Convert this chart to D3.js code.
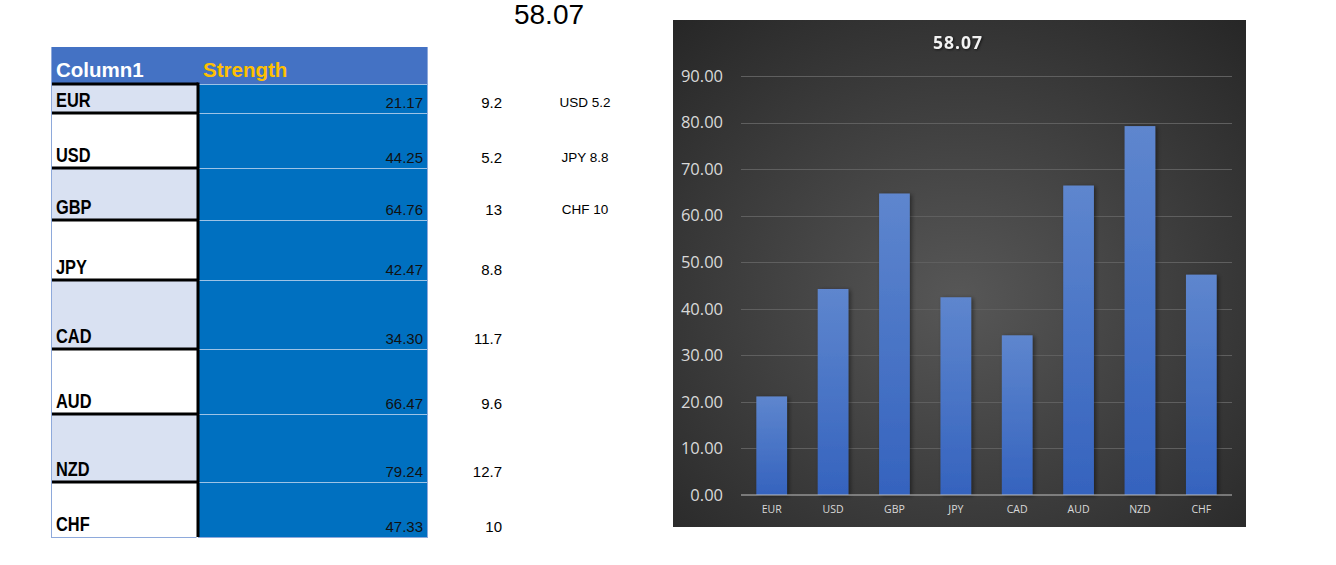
<!DOCTYPE html>
<html>
<head>
<meta charset="utf-8">
<script src="https://cdnjs.cloudflare.com/ajax/libs/d3/7.8.5/d3.min.js"></script>
<style>
  body { margin: 0; background: #fff; }
  svg { display: block; }
</style>
</head>
<body>
<script>
/* data */
const currencies = ["EUR", "USD", "GBP", "JPY", "CAD", "AUD", "NZD", "CHF"];
const strength = [21.17, 44.25, 64.76, 42.47, 34.30, 66.47, 79.24, 47.33];
const sideValues = ["9.2", "5.2", "13", "8.8", "11.7", "9.6", "12.7", "10"];
const notes = ["USD 5.2", "JPY 8.8", "CHF 10"];
const headers = ["Column1", "Strength"];
const average = "58.07";
const yTicks = [0, 10, 20, 30, 40, 50, 60, 70, 80, 90];

/* sheet layout (row heights as in the spreadsheet) */
const rowHeights = [29, 55, 52, 60, 69, 65, 68, 55];
const tableLeft = 51, splitX = 198, tableRight = 427, headerTop = 47, headerBottom = 84;

const svg = d3.select("body").append("svg")
    .attr("width", 1336)
    .attr("height", 565);

const defs = svg.append("defs");

// ---------- spreadsheet part ----------
const sheet = svg.append("g");

sheet.append("rect")
    .attr("x", tableLeft).attr("y", headerTop)
    .attr("width", tableRight - tableLeft).attr("height", headerBottom - headerTop)
    .attr("fill", "#4472C4");

sheet.append("text")
    .attr("x", 56).attr("y", 77)
    .attr("font-family", "Liberation Sans, Arial, sans-serif")
    .attr("font-weight", "bold").attr("font-size", 20.5)
    .attr("fill", "#fff")
    .text(headers[0]);

sheet.append("text")
    .attr("x", 203).attr("y", 77)
    .attr("font-family", "Liberation Sans, Arial, sans-serif")
    .attr("font-weight", "bold").attr("font-size", 20.5)
    .attr("fill", "#FFC000")
    .text(headers[1]);

// row tops from heights
const rowTops = [];
let acc = headerBottom;
rowHeights.forEach(h => { rowTops.push(acc); acc += h; });
const tableBottom = acc;

const rows = sheet.selectAll("g.row")
    .data(currencies)
    .enter().append("g")
    .attr("class", "row");

rows.append("rect")
    .attr("x", tableLeft)
    .attr("y", (d, i) => rowTops[i])
    .attr("width", splitX - tableLeft)
    .attr("height", (d, i) => rowHeights[i])
    .attr("fill", (d, i) => i % 2 === 0 ? "#D9E1F2" : "#ffffff");

rows.append("rect")
    .attr("x", splitX)
    .attr("y", (d, i) => rowTops[i])
    .attr("width", tableRight - splitX)
    .attr("height", (d, i) => rowHeights[i])
    .attr("fill", "#0070C0");

// thin light lines between value cells
rows.append("line")
    .attr("x1", splitX).attr("x2", tableRight)
    .attr("y1", (d, i) => rowTops[i] + 0.5)
    .attr("y2", (d, i) => rowTops[i] + 0.5)
    .attr("stroke", "#9DC3E6").attr("stroke-width", 1);

// thick black borders on the first column
rows.append("line")
    .attr("x1", tableLeft).attr("x2", splitX)
    .attr("y1", (d, i) => rowTops[i])
    .attr("y2", (d, i) => rowTops[i])
    .attr("stroke", "#000").attr("stroke-width", 3);

// currency names in a narrow bold face (Arial Narrow look)
rows.append("text")
    .attr("transform", (d, i) => `translate(56,${rowTops[i] + rowHeights[i] - 6}) scale(0.82,1)`)
    .attr("font-family", "Liberation Sans, Arial, sans-serif")
    .attr("font-weight", "bold").attr("font-size", 20)
    .attr("fill", "#000")
    .text(d => d);

rows.append("text")
    .attr("x", 423)
    .attr("y", (d, i) => rowTops[i] + rowHeights[i] - 5)
    .attr("text-anchor", "end")
    .attr("font-family", "Liberation Sans, Arial, sans-serif")
    .attr("font-size", 15)
    .attr("fill", "#111")
    .text((d, i) => strength[i].toFixed(2));

rows.append("text")
    .attr("x", 502)
    .attr("y", (d, i) => rowTops[i] + rowHeights[i] - 5)
    .attr("text-anchor", "end")
    .attr("font-family", "Liberation Sans, Arial, sans-serif")
    .attr("font-size", 15)
    .attr("fill", "#000")
    .text((d, i) => sideValues[i]);

sheet.selectAll("text.note")
    .data(notes)
    .enter().append("text")
    .attr("class", "note")
    .attr("x", 585)
    .attr("y", (d, i) => rowTops[i] + rowHeights[i] - 6)
    .attr("text-anchor", "middle")
    .attr("font-family", "Liberation Sans, Arial, sans-serif")
    .attr("font-size", 13.5)
    .attr("fill", "#000")
    .text(d => d);

// black vertical divider and outer light border
sheet.append("line")
    .attr("x1", splitX).attr("x2", splitX)
    .attr("y1", headerBottom - 1.5).attr("y2", tableBottom)
    .attr("stroke", "#000").attr("stroke-width", 3);

sheet.append("line")
    .attr("x1", tableLeft).attr("x2", splitX - 1.5)
    .attr("y1", tableBottom + 0.5).attr("y2", tableBottom + 0.5)
    .attr("stroke", "#8EA9DB");
sheet.append("line")
    .attr("x1", splitX).attr("x2", tableRight)
    .attr("y1", tableBottom + 0.5).attr("y2", tableBottom + 0.5)
    .attr("stroke", "#8EA9DB");
sheet.append("line")
    .attr("x1", tableLeft + 0.5).attr("x2", tableLeft + 0.5)
    .attr("y1", headerTop).attr("y2", tableBottom + 1)
    .attr("stroke", "#8EA9DB");
sheet.append("line")
    .attr("x1", tableRight + 0.5).attr("x2", tableRight + 0.5)
    .attr("y1", headerTop).attr("y2", tableBottom + 1)
    .attr("stroke", "#8EA9DB");

svg.append("text")
    .attr("x", 549).attr("y", 24)
    .attr("text-anchor", "middle")
    .attr("font-family", "Liberation Sans, Arial, sans-serif")
    .attr("font-size", 28)
    .attr("fill", "#000")
    .text(average);

// ---------- chart part ----------
const panel = { x: 673, y: 20, w: 573, h: 507 };

const bg = defs.append("radialGradient")
    .attr("id", "panelBg")
    .attr("cx", "50%").attr("cy", "55%").attr("r", "75%");
bg.append("stop").attr("offset", "0%").attr("stop-color", "#575757");
bg.append("stop").attr("offset", "100%").attr("stop-color", "#262626");

const barFill = defs.append("linearGradient")
    .attr("id", "barFill")
    .attr("x1", 0).attr("y1", 0).attr("x2", 0).attr("y2", 1);
barFill.append("stop").attr("offset", "0%").attr("stop-color", "#5E86CE");
barFill.append("stop").attr("offset", "100%").attr("stop-color", "#3563BE");

const shadow = defs.append("filter")
    .attr("id", "barShadow")
    .attr("x", "-20%").attr("y", "-5%").attr("width", "150%").attr("height", "115%");
shadow.append("feDropShadow")
    .attr("dx", 2).attr("dy", 1).attr("stdDeviation", 2)
    .attr("flood-color", "#000").attr("flood-opacity", 0.45);

const chart = svg.append("g").attr("transform", `translate(${panel.x},${panel.y})`);

chart.append("rect")
    .attr("width", panel.w).attr("height", panel.h)
    .attr("fill", "url(#panelBg)");

const x = d3.scaleBand()
    .domain(currencies)
    .range([68, 559])
    .paddingInner(0.5)
    .paddingOuter(0.25);

const y = d3.scaleLinear()
    .domain([0, 90])
    .range([475, 56]);

// grid
chart.append("g")
    .selectAll("line")
    .data(yTicks.filter(t => t > 0))
    .enter().append("line")
    .attr("x1", 68).attr("x2", 559)
    .attr("y1", d => Math.round(y(d)) + 0.5)
    .attr("y2", d => Math.round(y(d)) + 0.5)
    .attr("stroke", "#5f5f5f").attr("stroke-width", 1);

// y axis labels
const yAxis = chart.append("g")
    .attr("transform", "translate(68,0)")
    .call(d3.axisLeft(y).tickValues(yTicks).tickFormat(d3.format(".2f")).tickSize(0).tickPadding(18));
yAxis.select(".domain").remove();
yAxis.selectAll("text")
    .attr("font-family", "Open Sans, Noto Sans, sans-serif")
    .attr("font-size", 16.5)
    .attr("fill", "#d9d9d9");

// bars
chart.append("g")
    .selectAll("rect")
    .data(currencies)
    .enter().append("rect")
    .attr("x", d => x(d))
    .attr("y", (d, i) => y(strength[i]))
    .attr("width", x.bandwidth())
    .attr("height", (d, i) => y(0) - y(strength[i]))
    .attr("fill", "url(#barFill)")
    .attr("filter", "url(#barShadow)");

// x axis
const xAxis = chart.append("g")
    .attr("transform", `translate(0,${y(0)})`)
    .call(d3.axisBottom(x).tickSize(0).tickPadding(11));
xAxis.select(".domain")
    .attr("stroke", "#bfbfbf").attr("stroke-width", 1.2)
    .attr("d", "M68,0H559");
xAxis.selectAll("text")
    .attr("font-family", "Open Sans, Noto Sans, sans-serif")
    .attr("font-size", 10.5)
    .attr("fill", "#d9d9d9");

chart.append("text")
    .attr("x", 285).attr("y", 29)
    .attr("text-anchor", "middle")
    .attr("font-family", "Open Sans, Noto Sans, sans-serif")
    .attr("font-weight", "bold")
    .attr("font-size", 17.5)
    .attr("letter-spacing", 1)
    .attr("fill", "#f2f2f2")
    .style("filter", "drop-shadow(1px 1px 1px rgba(0,0,0,0.6))")
    .text(average);
</script>
</body>
</html>
